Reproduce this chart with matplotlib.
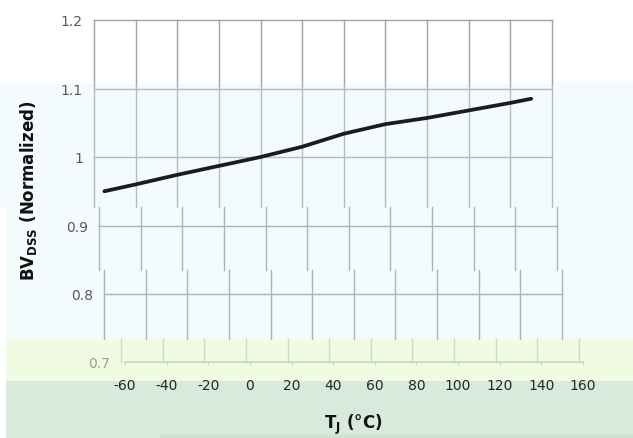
import matplotlib.pyplot as plt
from matplotlib.patches import Rectangle

# breakdown voltage vs junction temperature
temps = [-55, -40, -20, 0, 20, 40, 60, 80, 100, 120, 140, 150]
bv_norm = [0.950, 0.960, 0.974, 0.987, 1.000, 1.015, 1.034, 1.048, 1.057, 1.068, 1.079, 1.085]

x_ticks = [-60, -40, -20, 0, 20, 40, 60, 80, 100, 120, 140, 160]
x_labels = ['-60', '-40', '-20', '0', '20', '40', '60', '80', '100', '120', '140', '160']
y_ticks = [0.7, 0.8, 0.9, 1.0, 1.1, 1.2]
y_labels = ['0.7', '0.8', '0.9', '1', '1.1', '1.2']

W, H = 633, 439
fig = plt.figure(figsize=(W / 100, H / 100), dpi=100)
fig.patch.set_facecolor('white')

def yval(py):
    # pixel row -> value (1.2 sits at row 21, 685 px per unit)
    return 1.2 - (py - 21) / 685.0

def band_rect(x0, y0, x1, y1, color):
    fig.add_artist(Rectangle((x0 / W, 1 - y1 / H), (x1 - x0) / W, (y1 - y0) / H,
                             transform=fig.transFigure, facecolor=color,
                             edgecolor='none', zorder=0))

band_rect(0, 85, W, 208, '#f3fbfd')
band_rect(556, 82, W, 86, '#f3fbfd')
band_rect(6, 208, W, 340, '#f3fbfd')
band_rect(6, 340, W, 382, '#f1fbe1')
band_rect(6, 382, W, H, '#d8eadb')
band_rect(160, 436, W, H, '#cfe1d3')

def strip(x0, y0, y1, gcolor, hgrid=True, label_ticks=None):
    ax = fig.add_axes([x0 / W, 1 - y1 / H, 458 / W, (y1 - y0) / H])
    ax.set_facecolor('none')
    ax.set_xlim(-60, 160)
    ax.set_ylim(yval(y1), yval(y0))
    ax.set_xticks(x_ticks)
    ax.set_xticklabels([])
    ticks = [t for t in y_ticks if yval(y1) - 1e-6 <= t <= yval(y0) + 1e-6]
    ax.set_yticks(ticks)
    if label_ticks is None:
        ax.set_yticklabels([])
    else:
        ax.set_yticklabels([y_labels[y_ticks.index(t)] for t in ticks])
    ax.tick_params(length=0, pad=8, labelsize=10, labelcolor='#595959')
    for s in ax.spines.values():
        s.set_visible(False)
    ax.grid(True, axis='x', color=gcolor, lw=1)
    if hgrid:
        ax.grid(True, axis='y', color=gcolor, lw=1)
    for g in ax.get_xgridlines() + ax.get_ygridlines():
        g.set_clip_on(False)
    return ax

# upper strips share the same horizontal position and carry the curve
ax1 = strip(94, 21, 86, '#a3a3a3', label_ticks=True)
ax2 = strip(94, 86, 208, '#b3bcc2', label_ticks=True)
for ax in (ax1, ax2):
    ax.plot(temps, bv_norm, color='#1c1c1c', lw=2.7, solid_capstyle='round', zorder=3)

# lower strips, each shifted sideways
strip(99, 208, 271, '#a8b3bf', label_ticks=True)
strip(104, 271, 340, '#a8b3bf', label_ticks=True)
ax5 = strip(121, 340, 363, '#c8dfbb', hgrid=False, label_ticks=True)
ax5.set_yticks([0.7])
ax5.set_yticklabels(['0.7'])
ax5.tick_params(axis='y', labelcolor='#8fa68a', pad=8)

# x axis line with tick labels
axx = fig.add_axes([125 / W, 1 - 366 / H, 458 / W, 3 / H])
axx.set_facecolor('none')
axx.set_xlim(-60, 160)
axx.set_ylim(yval(366), yval(363))
axx.set_yticks([])
for s in ('left', 'right', 'bottom'):
    axx.spines[s].set_visible(False)
axx.spines['top'].set_color('#c3dbb4')
axx.spines['top'].set_linewidth(1.2)
axx.set_xticks(x_ticks)
axx.set_xticklabels(x_labels)
axx.tick_params(axis='x', direction='in', length=3, color='#c3dbb4',
                labelsize=10, labelcolor='#262626', pad=9)

fig.text(353 / W, 1 - 425 / H, r'T$_\mathbf{J}$ (°C)', fontsize=12, fontweight='bold',
         ha='center', va='center', color='#111111')
fig.text(29 / W, 1 - 191 / H, r'BV$_\mathregular{DSS}$ (Normalized)', fontsize=12,
         fontweight='bold', rotation=90, ha='center', va='center', color='#111111')

fig.savefig('out.png', dpi=100)
